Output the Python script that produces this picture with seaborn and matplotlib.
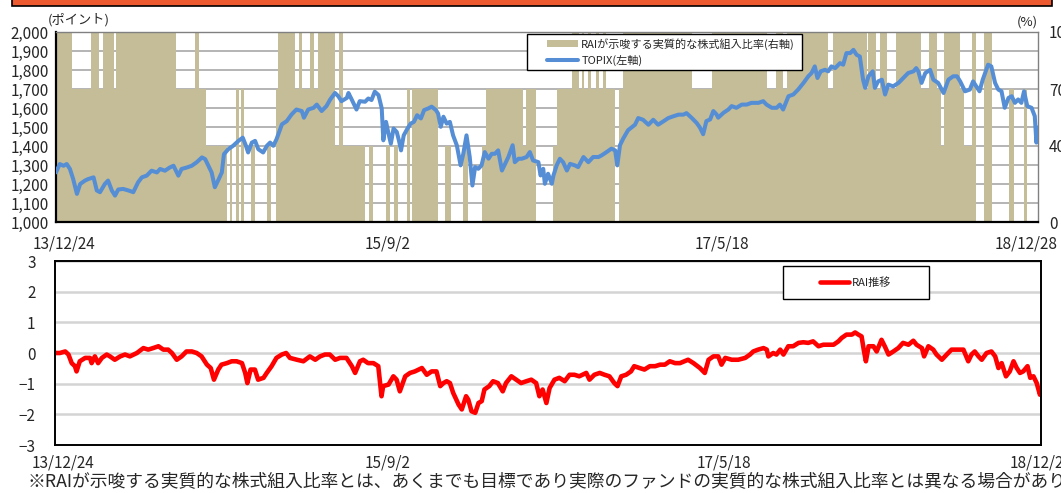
import numpy as np
import pandas as pd
import matplotlib
matplotlib.use("Agg")
import matplotlib.pyplot as plt
import matplotlib.transforms as mtransforms
from matplotlib.patches import Patch, Rectangle
from matplotlib.lines import Line2D
from matplotlib.ticker import FuncFormatter
import seaborn as sns

# TOPIX (left axis, points)
topix = [
    ("2013-12-24", 1261), ("2013-12-31", 1305), ("2014-01-07", 1296), ("2014-01-13", 1305),
    ("2014-01-19", 1279), ("2014-01-25", 1226), ("2014-02-01", 1148), ("2014-02-07", 1200),
    ("2014-02-16", 1218), ("2014-02-22", 1226), ("2014-03-04", 1235), ("2014-03-10", 1166),
    ("2014-03-16", 1157), ("2014-03-25", 1200), ("2014-03-31", 1218), ("2014-04-07", 1166),
    ("2014-04-13", 1139), ("2014-04-19", 1171), ("2014-04-28", 1174), ("2014-05-08", 1166),
    ("2014-05-17", 1157), ("2014-05-26", 1209), ("2014-06-02", 1235), ("2014-06-11", 1244),
    ("2014-06-20", 1270), ("2014-06-30", 1261), ("2014-07-06", 1279), ("2014-07-15", 1270),
    ("2014-07-24", 1287), ("2014-07-31", 1296), ("2014-08-09", 1244), ("2014-08-15", 1279),
    ("2014-08-25", 1287), ("2014-09-03", 1296), ("2014-09-12", 1314), ("2014-09-22", 1340),
    ("2014-09-28", 1331), ("2014-10-04", 1296), ("2014-10-10", 1261), ("2014-10-16", 1183),
    ("2014-10-22", 1218), ("2014-10-29", 1261), ("2014-11-02", 1357), ("2014-11-10", 1383),
    ("2014-11-19", 1401), ("2014-11-29", 1427), ("2014-12-07", 1444), ("2014-12-13", 1401),
    ("2014-12-17", 1366), ("2014-12-24", 1418), ("2014-12-30", 1427), ("2015-01-05", 1383),
    ("2015-01-14", 1366), ("2015-01-21", 1401), ("2015-01-27", 1418), ("2015-02-02", 1401),
    ("2015-02-08", 1436), ("2015-02-18", 1514), ("2015-02-27", 1531), ("2015-03-08", 1566),
    ("2015-03-17", 1592), ("2015-03-27", 1584), ("2015-03-31", 1549), ("2015-04-08", 1592),
    ("2015-04-18", 1601), ("2015-04-24", 1618), ("2015-05-03", 1584), ("2015-05-12", 1610),
    ("2015-05-19", 1645), ("2015-05-28", 1679), ("2015-06-03", 1662), ("2015-06-09", 1636),
    ("2015-06-19", 1653), ("2015-06-22", 1679), ("2015-06-28", 1645), ("2015-07-07", 1592),
    ("2015-07-13", 1636), ("2015-07-23", 1633), ("2015-07-29", 1650), ("2015-08-04", 1642),
    ("2015-08-10", 1686), ("2015-08-17", 1668), ("2015-08-23", 1598), ("2015-08-26", 1430),
    ("2015-08-31", 1527), ("2015-09-04", 1474), ("2015-09-09", 1412), ("2015-09-14", 1492),
    ("2015-09-20", 1474), ("2015-09-24", 1430), ("2015-09-28", 1377), ("2015-10-03", 1456),
    ("2015-10-10", 1492), ("2015-10-16", 1518), ("2015-10-22", 1527), ("2015-10-28", 1562),
    ("2015-11-04", 1545), ("2015-11-10", 1589), ("2015-11-18", 1598), ("2015-11-24", 1607),
    ("2015-12-02", 1589), ("2015-12-06", 1571), ("2015-12-11", 1501), ("2015-12-16", 1554),
    ("2015-12-22", 1518), ("2015-12-28", 1527), ("2016-01-03", 1456), ("2016-01-10", 1403),
    ("2016-01-17", 1298), ("2016-01-22", 1359), ("2016-01-28", 1456), ("2016-02-03", 1342),
    ("2016-02-08", 1192), ("2016-02-13", 1289), ("2016-02-19", 1280), ("2016-02-25", 1298),
    ("2016-03-02", 1368), ("2016-03-09", 1333), ("2016-03-15", 1359), ("2016-03-21", 1359),
    ("2016-03-27", 1377), ("2016-04-03", 1271), ("2016-04-09", 1306), ("2016-04-15", 1342),
    ("2016-04-23", 1404), ("2016-04-27", 1315), ("2016-05-04", 1333), ("2016-05-10", 1333),
    ("2016-05-19", 1342), ("2016-05-25", 1368), ("2016-05-31", 1324), ("2016-06-10", 1315),
    ("2016-06-14", 1245), ("2016-06-19", 1280), ("2016-06-22", 1201), ("2016-06-28", 1254),
    ("2016-07-05", 1201), ("2016-07-08", 1245), ("2016-07-14", 1298), ("2016-07-20", 1333),
    ("2016-07-26", 1315), ("2016-08-02", 1271), ("2016-08-08", 1306), ("2016-08-17", 1298),
    ("2016-08-23", 1289), ("2016-09-02", 1342), ("2016-09-11", 1315), ("2016-09-20", 1342),
    ("2016-09-30", 1342), ("2016-10-06", 1351), ("2016-10-15", 1368), ("2016-10-24", 1386),
    ("2016-10-31", 1377), ("2016-11-04", 1298), ("2016-11-09", 1404), ("2016-11-15", 1439),
    ("2016-11-24", 1483), ("2016-12-07", 1512), ("2016-12-13", 1547), ("2016-12-22", 1538),
    ("2017-01-01", 1512), ("2017-01-10", 1538), ("2017-01-19", 1512), ("2017-01-29", 1530),
    ("2017-02-07", 1547), ("2017-02-16", 1556), ("2017-02-26", 1565), ("2017-03-07", 1565),
    ("2017-03-13", 1573), ("2017-03-23", 1547), ("2017-04-01", 1521), ("2017-04-07", 1497),
    ("2017-04-13", 1462), ("2017-04-19", 1531), ("2017-04-26", 1540), ("2017-05-02", 1584),
    ("2017-05-08", 1566), ("2017-05-11", 1549), ("2017-05-21", 1575), ("2017-05-30", 1592),
    ("2017-06-05", 1610), ("2017-06-14", 1601), ("2017-06-24", 1618), ("2017-07-03", 1618),
    ("2017-07-12", 1627), ("2017-07-25", 1627), ("2017-08-03", 1636), ("2017-08-09", 1618),
    ("2017-08-19", 1601), ("2017-08-28", 1601), ("2017-09-03", 1618), ("2017-09-09", 1592),
    ("2017-09-19", 1662), ("2017-09-28", 1671), ("2017-10-07", 1697), ("2017-10-17", 1732),
    ("2017-10-26", 1767), ("2017-11-01", 1784), ("2017-11-07", 1819), ("2017-11-12", 1758),
    ("2017-11-18", 1793), ("2017-11-26", 1801), ("2017-12-02", 1793), ("2017-12-08", 1819),
    ("2017-12-15", 1810), ("2017-12-24", 1836), ("2017-12-30", 1828), ("2018-01-05", 1889),
    ("2018-01-12", 1889), ("2018-01-18", 1906), ("2018-01-24", 1880), ("2018-01-30", 1871),
    ("2018-02-05", 1749), ("2018-02-09", 1706), ("2018-02-15", 1767), ("2018-02-23", 1793),
    ("2018-02-27", 1706), ("2018-03-05", 1740), ("2018-03-12", 1749), ("2018-03-18", 1671),
    ("2018-03-24", 1723), ("2018-04-02", 1714), ("2018-04-12", 1732), ("2018-04-21", 1758),
    ("2018-04-30", 1784), ("2018-05-10", 1793), ("2018-05-15", 1810), ("2018-05-19", 1793),
    ("2018-05-25", 1732), ("2018-06-01", 1784), ("2018-06-10", 1801), ("2018-06-16", 1749),
    ("2018-06-25", 1732), ("2018-07-05", 1679), ("2018-07-14", 1749), ("2018-07-23", 1767),
    ("2018-07-30", 1767), ("2018-08-05", 1740), ("2018-08-14", 1688), ("2018-08-23", 1697),
    ("2018-08-29", 1740), ("2018-09-04", 1714), ("2018-09-10", 1688), ("2018-09-16", 1749),
    ("2018-09-26", 1828), ("2018-10-02", 1819), ("2018-10-09", 1732), ("2018-10-15", 1697),
    ("2018-10-21", 1688), ("2018-10-27", 1601), ("2018-11-03", 1653), ("2018-11-09", 1662),
    ("2018-11-15", 1627), ("2018-11-21", 1645), ("2018-11-27", 1627), ("2018-12-02", 1688),
    ("2018-12-08", 1610), ("2018-12-16", 1601), ("2018-12-22", 1557), ("2018-12-25", 1418),
    ("2018-12-28", 1497),
]

# RAI implied equity ratio (right axis, %): start date of each level
ratio_steps = [
    ("2013-12-24", 100), ("2014-01-23", 70), ("2014-02-27", 100), ("2014-03-14", 70),
    ("2014-03-22", 100), ("2014-04-11", 70), ("2014-04-15", 100), ("2014-08-05", 70),
    ("2014-09-09", 100), ("2014-09-16", 70), ("2014-09-30", 40), ("2014-11-08", 0),
    ("2014-11-13", 40), ("2014-11-17", 0), ("2014-11-24", 70), ("2014-11-30", 0),
    ("2014-12-04", 70), ("2014-12-09", 0), ("2014-12-22", 40), ("2014-12-30", 0),
    ("2015-01-21", 40), ("2015-01-29", 0), ("2015-02-07", 70), ("2015-02-11", 100),
    ("2015-03-14", 70), ("2015-03-22", 100), ("2015-03-27", 70), ("2015-04-11", 100),
    ("2015-04-19", 70), ("2015-04-26", 100), ("2015-05-28", 40), ("2015-06-04", 100),
    ("2015-06-12", 40), ("2015-07-23", 0), ("2015-07-30", 40), ("2015-08-07", 0),
    ("2015-08-31", 40), ("2015-09-07", 0), ("2015-09-15", 40), ("2015-09-22", 0),
    ("2015-10-09", 70), ("2015-10-15", 0), ("2015-10-18", 70), ("2015-12-06", 0),
    ("2015-12-19", 40), ("2015-12-30", 0), ("2016-01-21", 40), ("2016-01-31", 0),
    ("2016-02-26", 40), ("2016-03-04", 70), ("2016-05-12", 40), ("2016-05-18", 70),
    ("2016-06-05", 0), ("2016-07-07", 40), ("2016-07-15", 70), ("2016-08-12", 100),
    ("2016-08-25", 70), ("2016-08-30", 100), ("2016-09-03", 70), ("2016-09-10", 100),
    ("2016-09-16", 70), ("2016-09-25", 100), ("2016-10-01", 70), ("2016-10-08", 100),
    ("2016-10-14", 70), ("2016-10-31", 0), ("2016-11-07", 70), ("2016-11-15", 100),
    ("2017-03-23", 70), ("2017-04-29", 100), ("2017-08-10", 70), ("2017-08-27", 100),
    ("2017-09-09", 70), ("2017-09-16", 100), ("2017-12-02", 70), ("2017-12-11", 100),
    ("2018-02-12", 70), ("2018-02-14", 100), ("2018-03-01", 70), ("2018-03-09", 100),
    ("2018-03-22", 70), ("2018-04-07", 100), ("2018-05-24", 70), ("2018-06-08", 100),
    ("2018-06-23", 70), ("2018-06-30", 40), ("2018-07-06", 100), ("2018-08-05", 70),
    ("2018-08-12", 40), ("2018-08-27", 100), ("2018-09-03", 0), ("2018-09-18", 100),
    ("2018-10-03", 0), ("2018-11-04", 70), ("2018-11-13", 0), ("2018-12-02", 70),
    ("2018-12-07", 0),
]
period_start = "2013-12-24"
period_end = "2018-12-28"

# RAI (lower panel)
rai = [
    ("2013-12-24", 0.0), ("2014-01-02", 0.0), ("2014-01-12", 0.05), ("2014-01-18", -0.05),
    ("2014-01-24", -0.33), ("2014-01-30", -0.43), ("2014-02-02", -0.6), ("2014-02-08", -0.27),
    ("2014-02-18", -0.16), ("2014-02-27", -0.16), ("2014-03-02", -0.33), ("2014-03-08", -0.11),
    ("2014-03-14", -0.33), ("2014-03-21", -0.16), ("2014-03-30", -0.05), ("2014-04-05", -0.11),
    ("2014-04-14", -0.22), ("2014-04-24", -0.11), ("2014-05-03", -0.05), ("2014-05-12", -0.11),
    ("2014-05-25", 0.0), ("2014-06-06", 0.16), ("2014-06-15", 0.11), ("2014-06-24", 0.16),
    ("2014-07-04", 0.22), ("2014-07-13", 0.11), ("2014-07-22", 0.11), ("2014-07-29", 0.0),
    ("2014-08-07", -0.22), ("2014-08-16", -0.11), ("2014-08-25", 0.05), ("2014-09-04", 0.05),
    ("2014-09-13", 0.0), ("2014-09-22", -0.11), ("2014-10-02", -0.38), ("2014-10-09", -0.49),
    ("2014-10-15", -0.87), ("2014-10-23", -0.54), ("2014-10-29", -0.38), ("2014-11-08", -0.33),
    ("2014-11-17", -0.27), ("2014-11-26", -0.27), ("2014-12-06", -0.33), ("2014-12-12", -0.65),
    ("2014-12-16", -0.98), ("2014-12-22", -0.54), ("2014-12-30", -0.54), ("2015-01-05", -0.87),
    ("2015-01-15", -0.81), ("2015-01-21", -0.65), ("2015-01-30", -0.43), ("2015-02-08", -0.16),
    ("2015-02-18", -0.05), ("2015-02-26", 0.0), ("2015-03-05", -0.16), ("2015-03-18", -0.22),
    ("2015-03-30", -0.27), ("2015-04-11", -0.11), ("2015-04-21", -0.22), ("2015-04-30", -0.11),
    ("2015-05-09", -0.05), ("2015-05-18", -0.05), ("2015-05-28", -0.22), ("2015-06-06", -0.16),
    ("2015-06-18", -0.16), ("2015-06-28", -0.43), ("2015-07-04", -0.65), ("2015-07-13", -0.27),
    ("2015-07-19", -0.22), ("2015-07-28", -0.33), ("2015-08-07", -0.33), ("2015-08-16", -0.43),
    ("2015-08-22", -1.41), ("2015-08-25", -1.08), ("2015-09-04", -1.03), ("2015-09-13", -0.76),
    ("2015-09-19", -0.87), ("2015-09-25", -1.25), ("2015-10-05", -0.76), ("2015-10-14", -0.65),
    ("2015-10-23", -0.6), ("2015-11-05", -0.49), ("2015-11-14", -0.71), ("2015-11-23", -0.6),
    ("2015-12-02", -0.6), ("2015-12-09", -1.08), ("2015-12-15", -0.98), ("2015-12-21", -0.92),
    ("2015-12-27", -0.98), ("2016-01-02", -1.3), ("2016-01-12", -1.68), ("2016-01-18", -1.84),
    ("2016-01-26", -1.41), ("2016-01-30", -1.52), ("2016-02-05", -1.9), ("2016-02-12", -1.95),
    ("2016-02-18", -1.63), ("2016-02-24", -1.57), ("2016-02-29", -1.19), ("2016-03-09", -1.08),
    ("2016-03-16", -0.92), ("2016-03-25", -0.98), ("2016-04-03", -1.25), ("2016-04-09", -0.98),
    ("2016-04-19", -0.76), ("2016-04-28", -0.87), ("2016-05-07", -0.98), ("2016-05-17", -0.92),
    ("2016-05-26", -0.87), ("2016-06-04", -0.98), ("2016-06-10", -1.41), ("2016-06-16", -1.19),
    ("2016-06-23", -1.63), ("2016-06-29", -1.14), ("2016-07-08", -0.87), ("2016-07-17", -0.81),
    ("2016-07-27", -0.92), ("2016-08-05", -0.71), ("2016-08-14", -0.71), ("2016-08-23", -0.76),
    ("2016-09-05", -0.65), ("2016-09-11", -0.87), ("2016-09-20", -0.71), ("2016-09-30", -0.65),
    ("2016-10-09", -0.71), ("2016-10-18", -0.76), ("2016-10-27", -0.98), ("2016-11-02", -1.08),
    ("2016-11-09", -0.76), ("2016-11-18", -0.71), ("2016-11-27", -0.6), ("2016-12-03", -0.43),
    ("2016-12-13", -0.49), ("2016-12-22", -0.54), ("2017-01-01", -0.43), ("2017-01-11", -0.43),
    ("2017-01-20", -0.38), ("2017-01-29", -0.38), ("2017-02-07", -0.27), ("2017-02-17", -0.33),
    ("2017-02-26", -0.33), ("2017-03-13", -0.22), ("2017-03-23", -0.33), ("2017-04-04", -0.49),
    ("2017-04-13", -0.65), ("2017-04-20", -0.22), ("2017-04-29", -0.11), ("2017-05-08", -0.11),
    ("2017-05-14", -0.38), ("2017-05-21", -0.16), ("2017-06-02", -0.22), ("2017-06-14", -0.22),
    ("2017-06-27", -0.16), ("2017-07-06", -0.05), ("2017-07-12", 0.05), ("2017-07-21", 0.11),
    ("2017-07-31", 0.16), ("2017-08-06", 0.11), ("2017-08-09", -0.11), ("2017-08-18", 0.0),
    ("2017-08-24", -0.05), ("2017-08-31", 0.11), ("2017-09-06", -0.05), ("2017-09-15", 0.22),
    ("2017-09-24", 0.22), ("2017-10-04", 0.33), ("2017-10-13", 0.35), ("2017-10-22", 0.33),
    ("2017-10-31", 0.38), ("2017-11-10", 0.22), ("2017-11-19", 0.27), ("2017-11-28", 0.27),
    ("2017-12-08", 0.27), ("2017-12-17", 0.38), ("2017-12-23", 0.49), ("2018-01-01", 0.6),
    ("2018-01-11", 0.6), ("2018-01-17", 0.67), ("2018-01-23", 0.6), ("2018-01-29", 0.54),
    ("2018-02-02", 0.11), ("2018-02-06", -0.27), ("2018-02-11", 0.22), ("2018-02-20", 0.22),
    ("2018-02-26", 0.05), ("2018-03-07", 0.43), ("2018-03-13", 0.22), ("2018-03-20", -0.05),
    ("2018-03-29", 0.05), ("2018-04-07", 0.16), ("2018-04-16", 0.33), ("2018-04-26", 0.27),
    ("2018-05-05", 0.4), ("2018-05-11", 0.27), ("2018-05-21", 0.16), ("2018-05-25", -0.11),
    ("2018-06-02", 0.22), ("2018-06-11", 0.11), ("2018-06-17", -0.05), ("2018-06-27", -0.22),
    ("2018-07-06", -0.05), ("2018-07-15", 0.11), ("2018-07-25", 0.11), ("2018-08-06", 0.11),
    ("2018-08-15", -0.27), ("2018-08-21", -0.05), ("2018-08-27", 0.05), ("2018-09-03", -0.11),
    ("2018-09-09", -0.22), ("2018-09-18", 0.0), ("2018-09-27", 0.05), ("2018-10-04", -0.11),
    ("2018-10-10", -0.49), ("2018-10-16", -0.33), ("2018-10-24", -0.76), ("2018-10-31", -0.6),
    ("2018-11-07", -0.27), ("2018-11-13", -0.49), ("2018-11-19", -0.65), ("2018-11-25", -0.6),
    ("2018-12-03", -0.43), ("2018-12-08", -0.81), ("2018-12-14", -0.76), ("2018-12-20", -0.98),
    ("2018-12-26", -1.36), ("2018-12-28", -1.25),
]

tick_dates = ["2013-12-24", "2015-09-02", "2017-05-18", "2018-12-28"]
tick_labels = ["13/12/24", "15/9/2", "17/5/18", "18/12/28"]

TAN = "#C4BD97"
BLUE = "#558ED5"
RED = "#FF0000"

sns.set_style("white")
plt.rcParams['font.family'] = ['Noto Sans CJK JP', 'DejaVu Sans']

fig = plt.figure(figsize=(10.61, 4.93), dpi=100)
W, H = 1061, 493

def box(l, t, r, b):
    return [l / W, 1 - b / H, (r - l) / W, (b - t) / H]

def nudge(axis, shifts):
    # Excel keeps the end labels inside; shift them by a few pixels
    for lab, dx in zip(axis.get_xticklabels(), shifts):
        lab.set_transform(lab.get_transform() + mtransforms.ScaledTranslation(dx / 100, 0, fig.dpi_scale_trans))

xmin, xmax = pd.Timestamp(period_start), pd.Timestamp(period_end)
xt = pd.to_datetime(tick_dates)

# ---- top panel: TOPIX + implied equity ratio ----
ax = fig.add_axes(box(56, 32, 1038, 222))
ax2 = ax.twinx()
ax.set_zorder(ax2.get_zorder() + 1)
ax.patch.set_visible(False)

step_x = pd.to_datetime([d for d, _ in ratio_steps] + [period_end])
step_y = [v for _, v in ratio_steps] + [ratio_steps[-1][1]]
ax2.fill_between(step_x, 0, step_y, step="post", color=TAN, linewidth=0, zorder=2)
ax2.set_ylim(0, 100)
ax2.set_yticks([0, 40, 70, 100])
ax2.set_yticks(np.arange(0, 101, 10), minor=True)
ax2.set_axisbelow(True)
ax2.grid(True, which="both", axis="y", color="#A0A0A0", linewidth=1.1)
ax2.grid(False, axis="x")
ax2.tick_params(axis="y", which="both", length=0, pad=8, labelsize=11)
for s in ax2.spines.values():
    s.set_visible(False)

sns.lineplot(x=pd.to_datetime([d for d, _ in topix]), y=[v for _, v in topix],
             ax=ax, color=BLUE, linewidth=2.9, zorder=3)
ax.set_ylim(1000, 2000)
ax.set_yticks(np.arange(1000, 2001, 100))
ax.yaxis.set_major_formatter(FuncFormatter(lambda v, p: f"{int(v):,}"))
ax.set_xlim(xmin, xmax)
ax.set_xticks(xt)
ax.set_xticklabels(tick_labels)
ax.grid(False)
ax.set_xlabel("")
ax.set_ylabel("")
ax.tick_params(axis="y", length=0, pad=5, labelsize=11)
ax.tick_params(axis="x", length=0, pad=10, labelsize=11)
for k in ["left", "bottom"]:
    ax.spines[k].set_color("black")
    ax.spines[k].set_linewidth(1.6)
for k in ["top", "right"]:
    ax.spines[k].set_color("#808080")
    ax.spines[k].set_linewidth(1.0)
nudge(ax, [8, 0, 0, -12])

ax.add_patch(Rectangle((0.48, 0.80), 0.28, 0.19, transform=ax.transAxes,
                       facecolor="white", edgecolor="black", linewidth=1.0, zorder=5))
handles = [Patch(facecolor=TAN, edgecolor="none"), Line2D([], [], color=BLUE, linewidth=2.9)]
leg = ax.legend(handles, ["RAIが示唆する実質的な株式組入比率(右軸)", "TOPIX(左軸)"],
                loc="center left", bbox_to_anchor=(0.48 + 14 / 982, 0.895),
                frameon=False, fontsize=8, borderpad=0, handlelength=2.8,
                handleheight=0.6, handletextpad=0.3, labelspacing=0.45)
leg.set_zorder(6)

# ---- bottom panel: RAI ----
axb = fig.add_axes(box(55, 261, 1041, 445))
sns.lineplot(x=pd.to_datetime([d for d, _ in rai]), y=[v for _, v in rai],
             ax=axb, color=RED, linewidth=3.3)
axb.set_ylim(-3, 3)
axb.set_yticks(np.arange(-3, 4, 1))
axb.set_xlim(xmin, xmax)
axb.set_xticks(xt)
axb.set_xticklabels(tick_labels)
axb.set_xlabel("")
axb.set_ylabel("")
axb.grid(True, axis="y", color="#D4D4D4", linewidth=1.8)
axb.grid(False, axis="x")
axb.set_axisbelow(True)
axb.tick_params(axis="y", length=0, pad=14, labelsize=11)
axb.tick_params(axis="x", length=0, pad=7, labelsize=11)
for s in axb.spines.values():
    s.set_color("black")
    s.set_linewidth(1.4)
nudge(axb, [8, 0, 0, 0])

axb.add_patch(Rectangle((0.738, 0.793), 0.148, 0.18, transform=axb.transAxes,
                        facecolor="white", edgecolor="black", linewidth=1.0, zorder=5))
legb = axb.legend([Line2D([], [], color=RED, linewidth=3.3)], ["RAI推移"],
                  loc="center", bbox_to_anchor=(0.812, 0.883), frameon=False,
                  fontsize=8, borderpad=0, handlelength=2.6, handletextpad=0.2)
legb.set_zorder(6)

# ---- texts and banner ----
fig.text(79 / W, 1 - 20 / H, "(ポイント)", ha="center", va="center", fontsize=9.5)
fig.text(1027 / W, 1 - 22 / H, "(%)", ha="center", va="center", fontsize=9.5)
fig.text(28 / W, 1 - 481 / H,
         "※RAIが示唆する実質的な株式組入比率とは、あくまでも目標であり実際のファンドの実質的な株式組入比率とは異なる場合があります。",
         ha="left", va="center", fontsize=12.8)
fig.patches.append(Rectangle((12 / W, 1 - 6 / H), 1040 / W, 10 / H, transform=fig.transFigure,
                             facecolor="#EE5A2F", edgecolor="black", linewidth=1.2))

fig.savefig("out.png", dpi=100)
